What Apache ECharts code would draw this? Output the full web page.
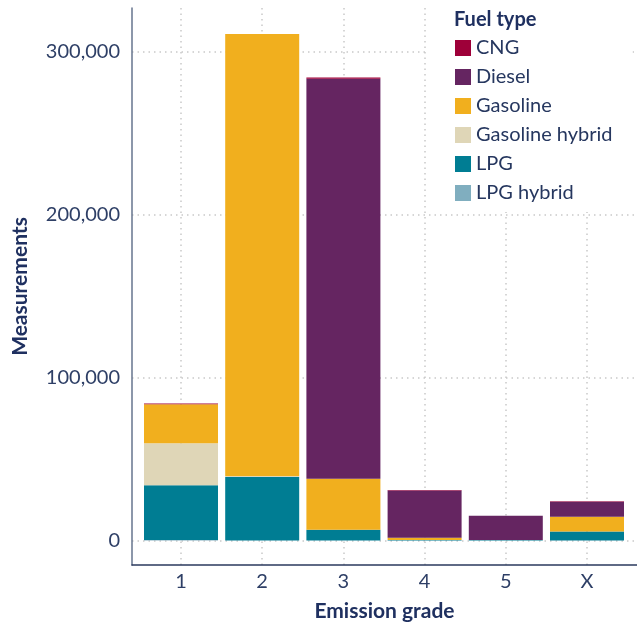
<!DOCTYPE html>
<html>
<head>
<meta charset="utf-8">
<script src="https://cdn.jsdelivr.net/npm/echarts@6/dist/echarts.min.js"></script>
<style>
  html, body { margin: 0; padding: 0; background: #fff; }
  #main { width: 637px; height: 626px; }
</style>
</head>
<body>
<div id="main"></div>
<script>
// emission grades on the x axis
var grades = ["1", "2", "3", "4", "5", "X"];
var yTicks = [0, 100000, 200000, 300000];

// values, one array per fuel type
var lpgHybrid = [300, 0, 0, 0, 0, 0];
var lpg = [33700, 39100, 6700, 400, 300, 5500];
var gasolineHybrid = [25800, 500, 0, 0, 0, 0];
var gasoline = [23900, 271400, 31300, 1400, 0, 9200];
var diesel = [0, 0, 245600, 29000, 15000, 9200];
var cng = [500, 0, 700, 300, 0, 300];

var legendOrder = ["CNG", "Diesel", "Gasoline", "Gasoline hybrid", "LPG", "LPG hybrid"];

// stacked from the bottom up
var stackList = [
  { name: "LPG hybrid", data: lpgHybrid, color: "#80aebf" },
  { name: "LPG", data: lpg, color: "#007d93" },
  { name: "Gasoline hybrid", data: gasolineHybrid, color: "#dfd6b7" },
  { name: "Gasoline", data: gasoline, color: "#f1af1e" },
  { name: "Diesel", data: diesel, color: "#652561" },
  { name: "CNG", data: cng, color: "#9e0039" }
];

var Y_MIN = -15000, Y_MAX = 327000;
var gridLine = { show: true, lineStyle: { color: "#c9c9c9", width: 1.5, type: [1.5, 4] } };
var font = "Lato";
var gradeIdx = grades.map(function (g, i) { return i; });

var chart = echarts.init(document.getElementById("main"));
chart.setOption({
  animation: false,
  textStyle: { fontFamily: font },
  title: {
    text: "Fuel type",
    left: 449,
    top: 5,
    z: 10,
    textStyle: { fontFamily: font, fontSize: 20, fontWeight: "bold", color: "#1f3060" }
  },
  legend: {
    data: legendOrder,
    orient: "vertical",
    left: 428,
    top: 0,
    padding: [38, 20, 9, 27],
    backgroundColor: "#fff",
    icon: "rect",
    itemWidth: 16,
    itemHeight: 16,
    itemGap: 9,
    textStyle: { fontFamily: font, fontSize: 20, color: "#26375f", lineHeight: 20 }
  },
  // grid 0 holds the bars, grid 1 draws the frame, labels and gridlines
  grid: [
    { left: 140.4, right: 9.4, top: 8, bottom: 61, outerBoundsMode: "none" },
    { left: 132, right: 0, top: 8, bottom: 61, outerBoundsMode: "none" }
  ],
  xAxis: [
    {
      gridIndex: 0,
      type: "category",
      data: grades,
      show: false
    },
    {
      gridIndex: 1,
      type: "value",
      min: -0.603,
      max: 5.616,
      name: "Emission grade",
      nameLocation: "middle",
      nameGap: 36,
      nameTextStyle: { fontFamily: font, fontSize: 21, fontWeight: "bold", color: "#1f3060" },
      axisLine: { show: true, onZero: false, lineStyle: { color: "#2b3a5e", width: 1.5 } },
      axisTick: { show: false, customValues: gradeIdx },
      axisLabel: {
        customValues: gradeIdx,
        formatter: function (v) { return grades[Math.round(v)]; },
        margin: 7,
        fontSize: 20,
        color: "#2e3f66"
      },
      splitLine: gridLine
    }
  ],
  yAxis: [
    {
      gridIndex: 0,
      type: "value",
      min: Y_MIN,
      max: Y_MAX,
      show: false,
      splitLine: { show: false }
    },
    {
      gridIndex: 1,
      type: "value",
      min: Y_MIN,
      max: Y_MAX,
      name: "Measurements",
      nameLocation: "middle",
      nameGap: 101,
      nameRotate: 90,
      nameTextStyle: { fontFamily: font, fontSize: 21, fontWeight: "bold", color: "#1f3060" },
      axisLine: { show: true, onZero: false, lineStyle: { color: "#66748e", width: 1.5 } },
      axisTick: { show: false, customValues: yTicks },
      axisLabel: {
        customValues: yTicks,
        formatter: function (v) { return v.toLocaleString("en-US"); },
        margin: 12,
        fontSize: 20,
        color: "#2e3f66"
      },
      splitLine: gridLine
    }
  ],
  series: stackList.map(function (s) {
    return {
      name: s.name,
      type: "bar",
      stack: "fuel",
      xAxisIndex: 0,
      yAxisIndex: 0,
      barWidth: 74,
      itemStyle: { color: s.color },
      data: s.data
    };
  })
});
</script>
</body>
</html>
